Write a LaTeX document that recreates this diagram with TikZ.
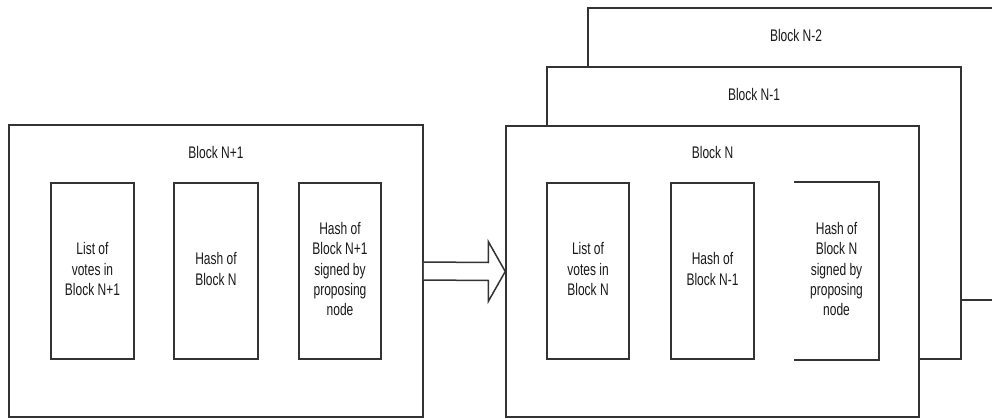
\documentclass[tikz,border=0pt]{standalone}
\usepackage{fontspec}
\setmainfont{Liberation Sans}
\usepackage{graphicx}
\definecolor{ln}{HTML}{333333}
\definecolor{tx}{HTML}{1A1A1A}
\newcommand{\lbl}[1]{\scalebox{1}[1.4]{\fontsize{12}{14.4}\selectfont\begin{tabular}{@{}c@{}}#1\end{tabular}}}
\begin{document}
\begin{tikzpicture}[x=1pt,y=-1pt,
  blk/.style={draw=ln,line width=1.5pt,fill=white,rectangle,inner sep=0pt},
  cell/.style={draw=ln,line width=1.5pt,rectangle,inner sep=0pt,minimum height=176pt},
  ttl/.style={text=tx,inner sep=0pt},
  edge/.style={draw=ln,line width=1.5pt}]
\useasboundingbox (0,0) rectangle (992,419);
\clip (0,0) rectangle (992,419);
% back blocks
\node[blk,minimum width=416pt,minimum height=292pt] (bn2) at (796,154) {};
\node[ttl] (tn2) at ([yshift=-30pt]bn2.north) {\lbl{Block N-2}};
\node[blk,minimum width=414pt,minimum height=292pt] (bn1) at (754,213) {};
\node[ttl] (tn1) at ([yshift=-30pt]bn1.north) {\lbl{Block N-1}};
\node[blk,minimum width=413pt,minimum height=291pt] (bn) at (712.5,271.5) {};
\node[ttl] (tn) at ([yshift=-29pt]bn.north) {\lbl{Block N}};
% block N+1
\node[blk,minimum width=414pt,minimum height=292pt] (bp) at (216,271) {};
\node[ttl] (tp) at ([yshift=-30pt]bp.north) {\lbl{Block N+1}};
% cells of block N+1
\node[cell,minimum width=83pt,text=tx] (p1) at (92.5,271) {\lbl{List of\\votes in\\Block N+1}};
\node[cell,minimum width=84pt,text=tx] (p2) at (216,271) {\lbl{Hash of\\Block N}};
\node[cell,minimum width=82pt,text=tx] (p3) at (340,271) {\lbl{Hash of\\Block N+1\\signed by\\proposing\\node}};
% cells of block N
\node[cell,minimum width=82pt,text=tx] (c1) at (588,271) {\lbl{List of\\votes in\\Block N}};
\node[cell,minimum width=83pt,text=tx] (c2) at (712.5,271) {\lbl{Hash of\\Block N-1}};
\node[cell,draw=none,minimum width=83pt,text=tx] (c3) at (836.5,271) {\lbl{Hash of\\Block N\\signed by\\proposing\\node}};
\draw[edge] (c3.north west) -- (c3.north east) -- (c3.south east) -- (c3.south west);
% hollow arrow
\coordinate (a0) at (bp.east);
\coordinate (a1) at (bn.west);
\draw[edge,fill=white,line join=miter]
  ([yshift=-9pt]a0) -- ([xshift=-17pt,yshift=-9pt]a1) -- ([xshift=-17pt,yshift=-30pt]a1)
  -- (a1) -- ([xshift=-17pt,yshift=30pt]a1) -- ([xshift=-17pt,yshift=9pt]a1) -- ([yshift=9pt]a0);
\end{tikzpicture}
\end{document}
